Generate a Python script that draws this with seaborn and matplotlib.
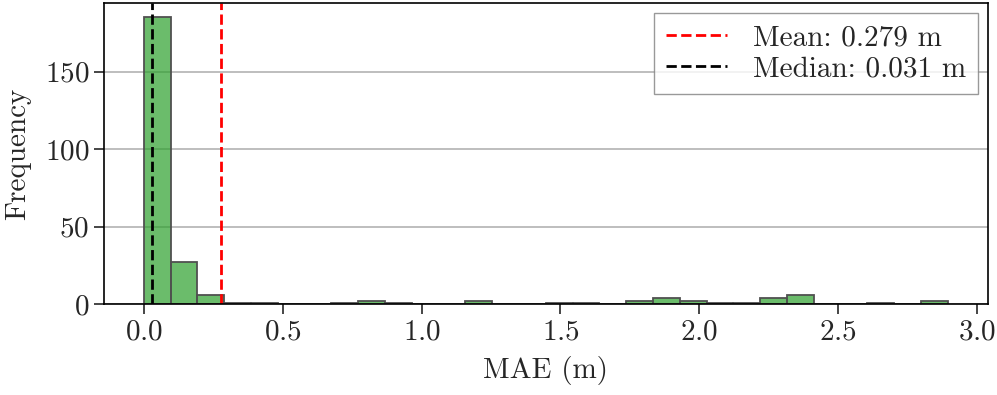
import numpy as np
import pandas as pd
import matplotlib
matplotlib.use('Agg')
import matplotlib.pyplot as plt
import seaborn as sns

# histogram: 30 bins between lo and hi
bin_lo = 0.0
bin_hi = 2.895
counts = [185, 27, 6, 1, 1, 0, 0, 1, 2, 1, 0, 0, 2, 0, 0,
          1, 1, 0, 2, 4, 2, 1, 1, 4, 6, 0, 0, 1, 0, 2]
mean_mae = 0.279
median_mae = 0.031

edges = np.linspace(bin_lo, bin_hi, len(counts) + 1)
df = pd.DataFrame({'mae': (edges[:-1] + edges[1:]) / 2, 'n': counts})

sns.set_style('white')
plt.rcParams['font.family'] = 'serif'
plt.rcParams['font.serif'] = ['cmr10', 'DejaVu Serif']
plt.rcParams['mathtext.fontset'] = 'cm'
plt.rcParams['axes.formatter.use_mathtext'] = True
plt.rcParams['font.size'] = 21

fig, ax = plt.subplots(figsize=(9.97, 3.95), dpi=100)
sns.histplot(data=df, x='mae', weights='n', bins=list(edges), color='tab:green',
             edgecolor='#505050', alpha=0.7, linewidth=1.3, ax=ax)
ax.axvline(mean_mae, color='red', linestyle='--', linewidth=2,
           label=f'Mean: {mean_mae:.3f} m')
ax.axvline(median_mae, color='black', linestyle='--', linewidth=2,
           label=f'Median: {median_mae:.3f} m')

ax.grid(axis='y', color='gray', alpha=0.6, linewidth=1.2)
ax.set_axisbelow(True)
for s in ax.spines.values():
    s.set_color('black')
    s.set_linewidth(1.2)
ax.tick_params(axis='both', which='major', length=7, width=1.2, labelsize=21,
               bottom=True, left=True)
ax.set_xlabel('MAE (m)', fontsize=21, labelpad=8)
ax.set_ylabel('Frequency', fontsize=21, labelpad=10)
leg = ax.legend(loc='upper right', fancybox=False, fontsize=21, handlelength=2.1,
                handletextpad=0.9, labelspacing=0.15, borderaxespad=0.35)
leg.get_frame().set_edgecolor('gray')

fig.subplots_adjust(left=0.104, right=0.991, bottom=0.23, top=0.992)
plt.savefig('out.png', dpi=100)
